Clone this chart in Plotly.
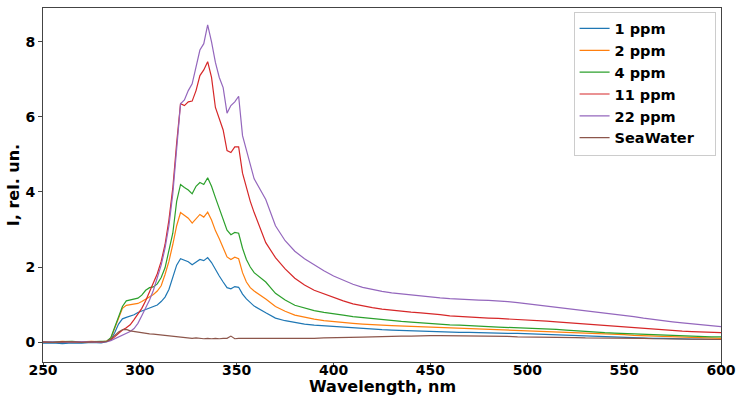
import plotly.graph_objects as go

# Wavelength grid (nm)
wl_base = [250, 255, 260, 265, 270, 275, 280]
wl_peak = list(range(283, 360, 2))
wl_tail = list(range(365, 601, 5))
wavelength = wl_base + wl_peak + wl_tail

ppm1 = ([-0.03, -0.02, -0.04, -0.02, -0.03, -0.01, -0.02] +
        [0.01, 0.07, 0.25, 0.48, 0.62, 0.66, 0.69, 0.73, 0.79, 0.83, 0.86, 0.90, 0.94, 0.99, 1.08, 1.20,
         1.40, 1.70, 2.05, 2.22, 2.18, 2.14, 2.06, 2.12, 2.20, 2.17, 2.25, 2.12, 1.92, 1.76, 1.60, 1.45,
         1.42, 1.48, 1.46, 1.28, 1.15, 1.05, 0.96] +
        [0.78, 0.64, 0.57, 0.52, 0.48, 0.45, 0.43, 0.41, 0.39, 0.37, 0.35, 0.34, 0.33, 0.32, 0.31, 0.30,
         0.29, 0.29, 0.28, 0.27, 0.26, 0.26, 0.25, 0.24, 0.24, 0.23, 0.23, 0.22, 0.21, 0.20, 0.19, 0.18,
         0.18, 0.17, 0.16, 0.15, 0.14, 0.13, 0.12, 0.11, 0.10, 0.10, 0.09, 0.09, 0.08, 0.08, 0.07, 0.07])

ppm2 = ([0.01, 0.00, 0.02, 0.00, 0.01, 0.02, 0.01] +
        [0.03, 0.10, 0.35, 0.65, 0.90, 0.98, 1.00, 1.01, 1.03, 1.08, 1.14, 1.20, 1.27, 1.36, 1.50, 1.80,
         2.15, 2.60, 3.10, 3.45, 3.38, 3.30, 3.17, 3.30, 3.40, 3.33, 3.46, 3.25, 2.97, 2.75, 2.50, 2.27,
         2.20, 2.26, 2.22, 1.85, 1.60, 1.45, 1.36] +
        [1.15, 0.95, 0.82, 0.72, 0.66, 0.61, 0.57, 0.54, 0.52, 0.50, 0.48, 0.46, 0.45, 0.44, 0.43, 0.42,
         0.41, 0.41, 0.40, 0.39, 0.38, 0.37, 0.36, 0.35, 0.34, 0.33, 0.32, 0.31, 0.30, 0.29, 0.28, 0.27,
         0.26, 0.25, 0.24, 0.22, 0.21, 0.20, 0.18, 0.17, 0.15, 0.14, 0.13, 0.12, 0.11, 0.11, 0.10, 0.10])

ppm4 = ([0.00, 0.01, 0.00, 0.02, 0.00, 0.01, 0.01] +
        [0.03, 0.12, 0.38, 0.68, 0.95, 1.10, 1.13, 1.15, 1.17, 1.25, 1.38, 1.45, 1.47, 1.55, 1.72, 1.98,
         2.40, 2.90, 3.75, 4.20, 4.12, 4.05, 3.95, 4.15, 4.25, 4.20, 4.38, 4.15, 3.85, 3.55, 3.25, 2.98,
         2.86, 2.92, 2.90, 2.50, 2.20, 2.00, 1.85] +
        [1.60, 1.30, 1.12, 0.98, 0.90, 0.84, 0.79, 0.76, 0.72, 0.68, 0.65, 0.62, 0.60, 0.57, 0.55, 0.53,
         0.51, 0.50, 0.48, 0.46, 0.45, 0.43, 0.42, 0.41, 0.40, 0.39, 0.39, 0.38, 0.37, 0.35, 0.34, 0.32,
         0.30, 0.29, 0.27, 0.25, 0.24, 0.23, 0.21, 0.20, 0.19, 0.18, 0.17, 0.16, 0.15, 0.15, 0.14, 0.14])

ppm11 = ([0.00, -0.01, 0.01, 0.00, 0.00, 0.01, 0.00] +
         [0.02, 0.06, 0.14, 0.24, 0.32, 0.38, 0.46, 0.60, 0.74, 0.90, 1.10, 1.35, 1.55, 1.82, 2.15, 2.60,
          3.25, 4.10, 5.30, 6.35, 6.30, 6.40, 6.42, 6.70, 7.10, 7.25, 7.47, 7.05, 6.25, 5.95, 5.65, 5.10,
          5.05, 5.20, 5.20, 4.50, 4.10, 3.75, 3.45] +
         [2.65, 2.25, 1.95, 1.70, 1.52, 1.38, 1.28, 1.20, 1.10, 1.02, 0.96, 0.92, 0.88, 0.85, 0.82, 0.80,
          0.78, 0.76, 0.73, 0.70, 0.68, 0.67, 0.66, 0.64, 0.63, 0.62, 0.61, 0.60, 0.58, 0.56, 0.54, 0.52,
          0.50, 0.48, 0.46, 0.43, 0.41, 0.39, 0.37, 0.35, 0.33, 0.32, 0.30, 0.29, 0.28, 0.27, 0.26, 0.25])

ppm22 = ([0.00, 0.01, -0.01, 0.00, 0.01, 0.00, 0.00] +
         [0.01, 0.04, 0.09, 0.15, 0.20, 0.24, 0.28, 0.36, 0.50, 0.70, 0.90, 1.12, 1.38, 1.70, 2.05, 2.50,
          3.10, 3.95, 5.10, 6.35, 6.45, 6.70, 6.88, 7.35, 7.78, 7.95, 8.45, 8.00, 7.45, 7.05, 6.78, 6.10,
          6.30, 6.40, 6.55, 5.50, 5.10, 4.70, 4.35] +
         [3.80, 3.10, 2.70, 2.42, 2.22, 2.05, 1.90, 1.76, 1.64, 1.54, 1.46, 1.40, 1.35, 1.31, 1.28, 1.25,
          1.22, 1.20, 1.18, 1.16, 1.14, 1.13, 1.12, 1.11, 1.10, 1.08, 1.05, 1.02, 0.99, 0.96, 0.92, 0.89,
          0.86, 0.83, 0.80, 0.78, 0.75, 0.72, 0.68, 0.64, 0.60, 0.57, 0.54, 0.51, 0.48, 0.45, 0.43, 0.41])

seawater = ([0.00, -0.01, 0.00, 0.01, -0.01, 0.00, 0.01] +
            [0.02, 0.08, 0.18, 0.27, 0.33, 0.34, 0.30, 0.28, 0.26, 0.24, 0.24, 0.22, 0.21, 0.20, 0.18, 0.16,
             0.15, 0.14, 0.13, 0.13, 0.12, 0.11, 0.10, 0.11, 0.10, 0.09, 0.10, 0.09, 0.10, 0.09, 0.10, 0.10,
             0.16, 0.09, 0.10, 0.10, 0.09, 0.10, 0.09] +
            [0.09, 0.08, 0.09, 0.09, 0.10, 0.10, 0.11, 0.11, 0.12, 0.13, 0.13, 0.14, 0.15, 0.15, 0.16, 0.16,
             0.17, 0.17, 0.17, 0.17, 0.17, 0.16, 0.16, 0.16, 0.15, 0.15, 0.14, 0.14, 0.14, 0.13, 0.13, 0.12,
             0.12, 0.11, 0.11, 0.11, 0.11, 0.10, 0.10, 0.10, 0.09, 0.09, 0.09, 0.08, 0.08, 0.08, 0.07, 0.07])

series_names = ["1 ppm", "2 ppm", "4 ppm", "11 ppm", "22 ppm", "SeaWater\u00a0\u00a0\u00a0"]
series_values = [ppm1, ppm2, ppm4, ppm11, ppm22, seawater]
colors = ["#1f77b4", "#ff7f0e", "#2ca02c", "#d62728", "#9467bd", "#8c564b"]

x_ticks = [250, 300, 350, 400, 450, 500, 550, 600]
y_ticks = [0, 2, 4, 6, 8]

FONT = "DejaVu Sans"

fig = go.Figure()
for name, vals, col in zip(series_names, series_values, colors):
    fig.add_trace(go.Scatter(x=wavelength, y=vals, mode="lines", name=name,
                             line=dict(color=col, width=1.2)))

axis_common = dict(showline=True, linecolor="#444", linewidth=1, mirror=True,
                   ticks="outside", ticklen=4, tickcolor="#444", showgrid=False, zeroline=False,
                   automargin=False,
                   tickfont=dict(family=FONT, size=14, color="black", weight="bold"))

fig.update_xaxes(range=[250, 600], tickvals=x_ticks, ticklabelstandoff=-9, **axis_common)
fig.update_yaxes(range=[-0.53, 8.9], tickvals=y_ticks,
                 title=dict(text="I, rel. un.", standoff=1,
                            font=dict(family=FONT, size=16, color="black", weight="bold")),
                 **axis_common)

fig.add_annotation(text="Wavelength, nm", xref="paper", yref="paper", x=0.5, y=-0.068,
                   xanchor="center", yanchor="middle", showarrow=False,
                   font=dict(family=FONT, size=16, color="black", weight="bold"))

fig.update_layout(
    width=740, height=399,
    margin=dict(l=43, r=19, t=8, b=37),
    plot_bgcolor="white", paper_bgcolor="white",
    font=dict(family=FONT, color="black"),
    legend=dict(x=0.992, y=0.99, xanchor="right", yanchor="top",
                bgcolor="rgba(255,255,255,0.8)", bordercolor="#ccc", borderwidth=1,
                font=dict(family=FONT, size=14.5, color="black", weight="bold"),
                tracegroupgap=0, itemwidth=30),
    showlegend=True,
)

fig.write_html("out.html", config={"displayModeBar": False},
               post_script="document.body.style.margin='0';document.body.style.overflow='hidden';")
